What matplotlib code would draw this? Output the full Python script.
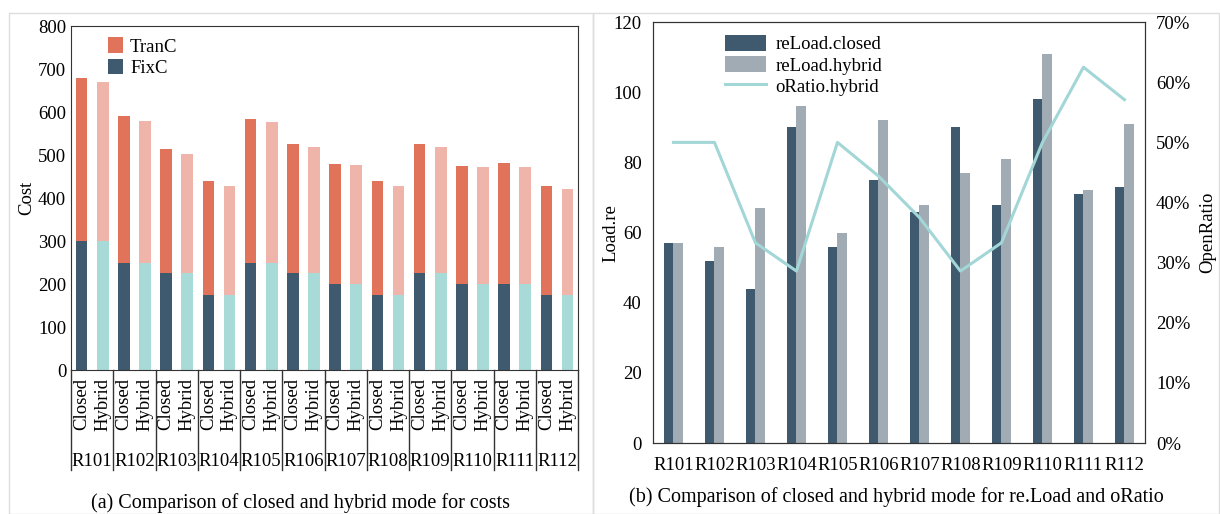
import matplotlib.pyplot as plt
import matplotlib.transforms as mtransforms
from matplotlib.patches import Rectangle
from matplotlib.ticker import PercentFormatter
import numpy as np

plt.rcParams['font.family'] = ['Liberation Serif', 'DejaVu Serif']

routes = ['R101', 'R102', 'R103', 'R104', 'R105', 'R106',
          'R107', 'R108', 'R109', 'R110', 'R111', 'R112']
modes = ['Closed', 'Hybrid']

# panel (a): costs
fix_closed = [300, 250, 225, 175, 250, 225, 200, 175, 225, 200, 200, 175]
fix_hybrid = [300, 250, 225, 175, 250, 225, 200, 175, 225, 200, 200, 175]
total_closed = [680, 590, 515, 440, 583, 527, 480, 440, 525, 475, 482, 428]
total_hybrid = [670, 580, 503, 428, 578, 518, 476, 428, 518, 472, 472, 422]

# panel (b): reLoad and open ratio
reload_closed = [57, 52, 44, 90, 56, 75, 66, 90, 68, 98, 71, 73]
reload_hybrid = [57, 56, 67, 96, 60, 92, 68, 77, 81, 111, 72, 91]
oratio_hybrid = [50, 50, 33.3, 28.6, 50, 44.4, 37.5, 28.6, 33.3, 50, 62.5, 57.1]

navy = '#3F5A6E'
teal = '#A8DAD8'
orange = '#E0735A'
salmon = '#F0B5AA'
grey = '#A0ABB3'
line_c = '#A3D6D6'
fs = 13.5

fig = plt.figure(figsize=(12.2, 5.14), dpi=100)
fig.patches.append(Rectangle((0.007, 0.0), 0.479, 0.975, transform=fig.transFigure,
                             fill=False, edgecolor='#DDDDDD', lw=1))
fig.patches.append(Rectangle((0.486, 0.0), 0.513, 0.975, transform=fig.transFigure,
                             fill=False, edgecolor='#DDDDDD', lw=1))

# ---- (a)
ax1 = fig.add_axes([0.0582, 0.280, 0.4156, 0.669])
n = len(routes)
xc = np.arange(n) * 2
xh = xc + 1
tran_closed = np.array(total_closed) - np.array(fix_closed)
tran_hybrid = np.array(total_hybrid) - np.array(fix_hybrid)
w = 0.55
ax1.bar(xc, fix_closed, w, color=navy, label='FixC')
ax1.bar(xc, tran_closed, w, bottom=fix_closed, color=orange, label='TranC')
ax1.bar(xh, fix_hybrid, w, color=teal)
ax1.bar(xh, tran_hybrid, w, bottom=fix_hybrid, color=salmon)
ax1.set_xlim(-0.5, 2 * n - 0.5)
ax1.set_ylim(0, 800)
ax1.set_yticks(range(0, 801, 100))
ax1.set_ylabel('Cost', fontsize=fs, labelpad=2)
ax1.set_xticks(np.concatenate([xc, xh]))
ax1.set_xticklabels(['Closed'] * n + ['Hybrid'] * n, rotation=90, fontsize=fs)
ax1.tick_params(axis='both', length=0, labelsize=fs)
ax1.tick_params(axis='x', pad=6)
trans = mtransforms.blended_transform_factory(ax1.transData, ax1.transAxes)
for k in range(n + 1):
    ax1.plot([2 * k - 0.5, 2 * k - 0.5], [0, -0.29], color='#333333', lw=1,
             transform=trans, clip_on=False)
for k, r in enumerate(routes):
    ax1.text(2 * k + 0.5, -0.267, r, transform=trans, ha='center', va='center',
             fontsize=fs)
h, l = ax1.get_legend_handles_labels()
ax1.legend(h[::-1], l[::-1], loc='upper left', bbox_to_anchor=(0.05, 1.0),
           frameon=False, fontsize=fs, handlelength=0.8, handleheight=0.9,
           handletextpad=0.4, labelspacing=0.15, borderaxespad=0.2)
for s in ax1.spines.values():
    s.set_color('#333333')
fig.text(0.246, 0.022, '(a) Comparison of closed and hybrid mode for costs',
         ha='center', va='center', fontsize=14.5)

# ---- (b)
ax2 = fig.add_axes([0.5352, 0.138, 0.4033, 0.819])
x = np.arange(n)
bw = 0.24
ax2.bar(x - bw / 2, reload_closed, bw, color=navy, label='reLoad.closed')
ax2.bar(x + bw / 2, reload_hybrid, bw, color=grey, label='reLoad.hybrid')
ax2.set_xlim(-0.5, n - 0.5)
ax2.set_ylim(0, 120)
ax2.set_yticks(range(0, 121, 20))
ax2.set_xticks(x)
ax2.set_xticklabels(routes)
ax2.tick_params(axis='both', length=0, labelsize=fs)
ax2.tick_params(axis='x', pad=10)
ax2.tick_params(axis='y', pad=8)
ax2.set_ylabel('Load.re', fontsize=fs, labelpad=-4)
ax3 = ax2.twinx()
ax3.plot(x, oratio_hybrid, color=line_c, lw=2.2, label='oRatio.hybrid')
ax3.set_ylim(0, 70)
ax3.set_yticks(range(0, 71, 10))
ax3.yaxis.set_major_formatter(PercentFormatter(decimals=0))
ax3.tick_params(axis='y', length=0, labelsize=fs, pad=8)
ax3.set_ylabel('OpenRatio', fontsize=fs, labelpad=6)
h1, l1 = ax2.get_legend_handles_labels()
h2, l2 = ax3.get_legend_handles_labels()
ax3.legend(h1 + h2, l1 + l2, loc='upper left', bbox_to_anchor=(0.12, 1.0),
           frameon=False, fontsize=fs, handlelength=2.2, handleheight=0.9,
           handletextpad=0.5, labelspacing=0.15, borderaxespad=0.3)
for a in (ax2, ax3):
    for s in a.spines.values():
        s.set_color('#333333')
fig.text(0.735, 0.033, '(b) Comparison of closed and hybrid mode for re.Load and oRatio',
         ha='center', va='center', fontsize=14.5)

fig.savefig('out.png', dpi=100)
